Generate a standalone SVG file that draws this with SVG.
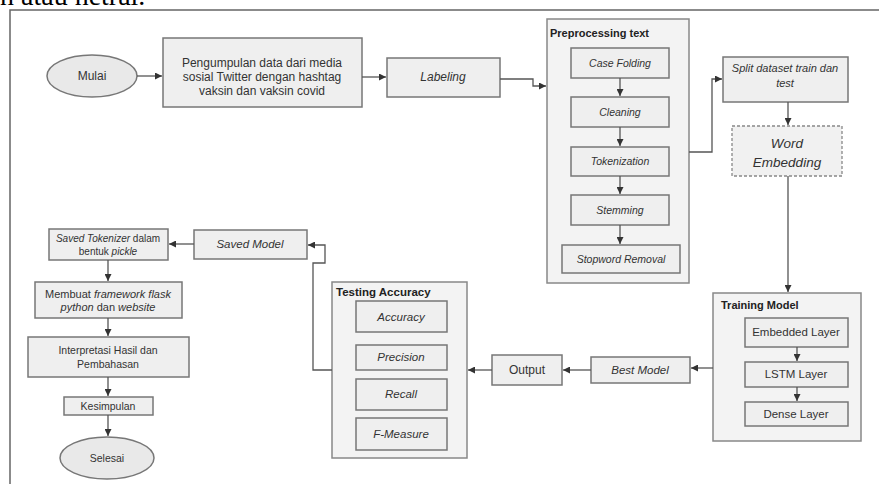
<svg xmlns="http://www.w3.org/2000/svg" width="879" height="484" viewBox="0 0 879 484">
<defs>
<marker id="ah" markerWidth="7" markerHeight="7" refX="7" refY="3.5" orient="auto" markerUnits="userSpaceOnUse">
<path d="M0,0 L7,3.5 L0,7 z" fill="#333"/>
</marker>
<style>
.box{fill:#efefef;stroke:#777;stroke-width:1.5}
.cont{fill:#f3f3f3;stroke:#888;stroke-width:1.5}
.dash{fill:#f1f1f1;stroke:#888;stroke-width:1.3;stroke-dasharray:3 2}
.ell{fill:#e9e9e9;stroke:#777;stroke-width:1.5}
.t{font-family:"Liberation Sans",Arial,sans-serif;fill:#333;text-anchor:middle}
.i{font-style:italic}
.b{font-weight:bold;text-anchor:start;fill:#222}
.c{fill:none;stroke:#555;stroke-width:1.3;marker-end:url(#ah)}
.l{fill:none;stroke:#555;stroke-width:1.3}
</style>
</defs>
<rect width="879" height="484" fill="#fff"/>
<text x="0" y="5" font-family="Liberation Serif,serif" font-size="28" fill="#000">n atau netral.</text>
<path d="M10,484 V10 H879" fill="none" stroke="#666" stroke-width="1.5"/>

<g id="mulai"><ellipse class="ell" cx="92" cy="76" rx="45" ry="21"/><text class="t" x="92" y="80" font-size="12">Mulai</text></g>
<g id="pengumpulan"><rect class="box" x="163" y="38" width="199" height="69"/>
<text class="t" x="262" y="67" font-size="12">Pengumpulan data dari media</text>
<text class="t" x="262" y="81" font-size="12">sosial Twitter dengan hashtag</text>
<text class="t" x="262" y="95" font-size="12">vaksin dan vaksin covid</text></g>
<g id="labeling"><rect class="box" x="387" y="58" width="113" height="39"/><text class="t i" x="443" y="81" font-size="12">Labeling</text></g>

<g id="preprocessing"><rect class="cont" x="547" y="19" width="142" height="264"/>
<text class="t b" x="550" y="37" font-size="11">Preprocessing text</text>
<g id="casefolding"><rect class="box" x="571" y="48" width="98" height="30"/><text class="t i" x="620" y="67" font-size="10.5">Case Folding</text></g>
<g id="cleaning"><rect class="box" x="571" y="97" width="98" height="30"/><text class="t i" x="620" y="116" font-size="10.5">Cleaning</text></g>
<g id="tokenization"><rect class="box" x="571" y="147" width="98" height="29"/><text class="t i" x="620" y="165" font-size="10.5">Tokenization</text></g>
<g id="stemming"><rect class="box" x="571" y="195" width="98" height="30"/><text class="t i" x="620" y="214" font-size="10.5">Stemming</text></g>
<g id="stopword"><rect class="box" x="562" y="245" width="118" height="28"/><text class="t i" x="621" y="263" font-size="10.5">Stopword Removal</text></g>
</g>

<g id="split"><rect class="box" x="723" y="57" width="125" height="45"/>
<text class="t i" x="785" y="72" font-size="11">Split dataset train dan</text>
<text class="t i" x="785" y="87" font-size="11">test</text></g>
<g id="wordembedding"><rect class="dash" x="732" y="126" width="110" height="50"/>
<text class="t i" x="787" y="148" font-size="13.5">Word</text>
<text class="t i" x="787" y="167" font-size="13.5">Embedding</text></g>

<g id="training"><rect class="cont" x="713" y="293" width="148" height="148"/>
<text class="t b" x="721" y="309" font-size="11">Training Model</text>
<g id="embedded"><rect class="box" x="745" y="318" width="103" height="29"/><text class="t" x="796" y="336" font-size="11.5">Embedded Layer</text></g>
<g id="lstm"><rect class="box" x="745" y="362" width="103" height="25"/><text class="t" x="796" y="378" font-size="11.5">LSTM Layer</text></g>
<g id="dense"><rect class="box" x="745" y="402" width="103" height="24"/><text class="t" x="796" y="418" font-size="11.5">Dense Layer</text></g>
</g>

<g id="bestmodel"><rect class="box" x="591" y="357" width="99" height="26"/><text class="t i" x="640" y="374" font-size="11.5">Best Model</text></g>
<g id="output"><rect class="box" x="492" y="355" width="70" height="30"/><text class="t" x="527" y="374" font-size="12">Output</text></g>

<g id="testing"><rect class="cont" x="332" y="282" width="135" height="176"/>
<text class="t b" x="336" y="296" font-size="11.5">Testing Accuracy</text>
<g id="accuracy"><rect class="box" x="356" y="301" width="91" height="31"/><text class="t i" x="401" y="321" font-size="11.5">Accuracy</text></g>
<g id="precision"><rect class="box" x="356" y="345" width="91" height="25"/><text class="t i" x="401" y="361" font-size="11.5">Precision</text></g>
<g id="recall"><rect class="box" x="356" y="379" width="91" height="31"/><text class="t i" x="401" y="398" font-size="11.5">Recall</text></g>
<g id="fmeasure"><rect class="box" x="356" y="418" width="91" height="32"/><text class="t i" x="401" y="438" font-size="11.5">F-Measure</text></g>
</g>

<g id="savedmodel"><rect class="box" x="194" y="230" width="113" height="29"/><text class="t i" x="250" y="248" font-size="11.5">Saved Model</text></g>
<g id="savedtokenizer"><rect class="box" x="49" y="229" width="119" height="31"/>
<text class="t" x="108" y="242" font-size="10"><tspan class="i">Saved Tokenizer</tspan> dalam</text>
<text class="t" x="108" y="255" font-size="10">bentuk <tspan class="i">pickle</tspan></text></g>
<g id="membuat"><rect class="box" x="35" y="282" width="147" height="36"/>
<text class="t" x="108" y="298" font-size="11">Membuat <tspan class="i">framework flask</tspan></text>
<text class="t" x="108" y="311" font-size="11"><tspan class="i">python</tspan> dan <tspan class="i">website</tspan></text></g>
<g id="interpretasi"><rect class="box" x="28" y="337" width="161" height="40"/>
<text class="t" x="108" y="354" font-size="10.5">Interpretasi Hasil dan</text>
<text class="t" x="108" y="368" font-size="10.5">Pembahasan</text></g>
<g id="kesimpulan"><rect class="box" x="64" y="397" width="89" height="18"/><text class="t" x="108" y="410" font-size="10.5">Kesimpulan</text></g>
<g id="selesai"><ellipse class="ell" cx="107" cy="458" rx="47" ry="21"/><text class="t" x="107" y="462" font-size="10.5">Selesai</text></g>

<g id="connectors">
<path class="c" d="M137,76 H162"/>
<path class="c" d="M362,77 H386"/>
<path class="c" d="M500,79 H533 V86 H546"/>
<path class="c" d="M620,78 V96"/>
<path class="c" d="M620,127 V146"/>
<path class="c" d="M620,176 V194"/>
<path class="c" d="M620,225 V244"/>
<path class="c" d="M689,152 H712 V79 H722"/>
<path class="c" d="M788,102 V125"/>
<path class="c" d="M788,176 V292"/>
<path class="c" d="M797,347 V361"/>
<path class="c" d="M797,387 V401"/>
<path class="c" d="M713,368 H691"/>
<path class="c" d="M591,370 H563"/>
<path class="c" d="M492,370 H468"/>
<path class="c" d="M332,370 H313 V263 H325 V245 H308"/>
<path class="c" d="M194,244 H169"/>
<path class="c" d="M108,260 V281"/>
<path class="c" d="M108,318 V336"/>
<path class="c" d="M108,377 V396"/>
<path class="c" d="M108,415 V436"/>
</g>
</svg>
